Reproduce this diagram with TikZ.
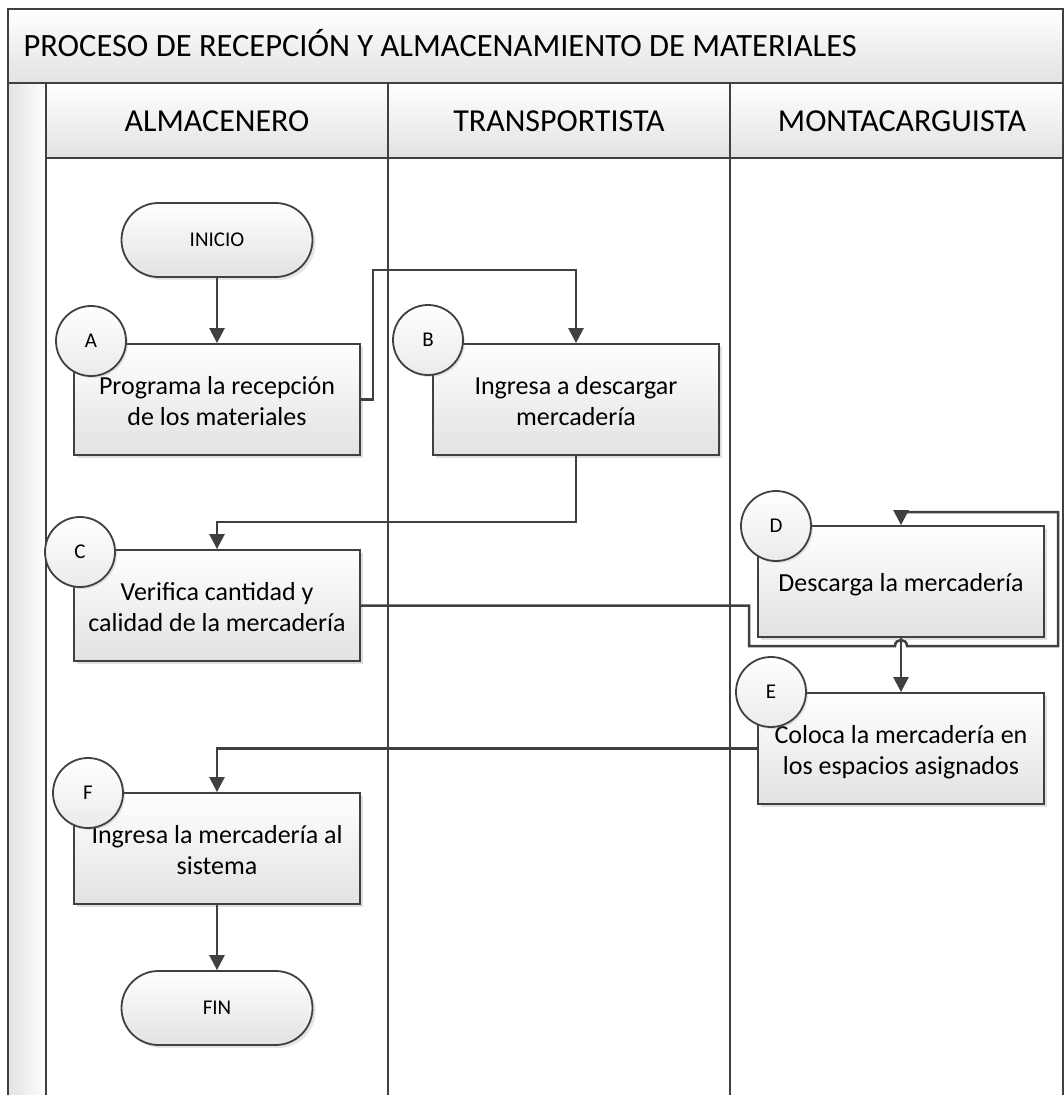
\documentclass[tikz,border=0pt]{standalone}
\usepackage{fontspec}
\setmainfont{Carlito}
\usetikzlibrary{arrows.meta,shadows}
\definecolor{ln}{HTML}{404040}
\definecolor{gb}{HTML}{E2E2E2}
\newcommand\boxtxt[1]{\raisebox{-4pt}[\height][\depth]{\begin{tabular}{@{}c@{}}#1\end{tabular}}}
\begin{document}
\begin{tikzpicture}[x=1pt,y=-1pt,
  frame/.style={draw=ln,line width=2pt},
  box/.style={draw=ln,line width=1.8pt,top color=white,bottom color=gb,minimum width=286pt,minimum height=111pt,inner sep=0pt,font=\fontsize{26}{31}\selectfont,drop shadow={shadow xshift=3pt,shadow yshift=-3pt,opacity=0.25,fill=gray}},
  tag/.style={circle,draw=ln,line width=1.8pt,top color=white,bottom color=gb!70,minimum size=70pt,inner sep=0pt,font=\fontsize{21}{24}\selectfont,drop shadow={shadow xshift=2pt,shadow yshift=-2pt,opacity=0.2,fill=gray}},
  term/.style={draw=ln,line width=1.8pt,rounded corners=37pt,minimum width=191pt,minimum height=74pt,top color=white,bottom color=gb,inner sep=0pt,font=\fontsize{21}{24}\selectfont,drop shadow={shadow xshift=3pt,shadow yshift=-3pt,opacity=0.2,fill=gray}},
  lanetext/.style={anchor=base,font=\fontsize{32}{38}\selectfont},
  conn/.style={draw=ln,line width=2.5pt},
  arr/.style={conn,-{Triangle[length=15pt,width=15pt]}},
]
\useasboundingbox (0,0) rectangle (1064,1095);
\fill[white] (0,0) rectangle (1064,1095);
\clip (0,0) rectangle (1064,1095);
% pool frame
\draw[frame,top color=white,bottom color=gb] (8,9) rectangle (1063,83);
\node[anchor=base west,font=\fontsize{32.5}{38}\selectfont] (title) at (20,56) {PROCESO DE RECEPCIÓN Y ALMACENAMIENTO DE MATERIALES};
\draw[frame,left color=gb,right color=white] (8,83) rectangle (46,1110);
\draw[frame,top color=white,bottom color=gb] (46,83) rectangle (388,158);
\draw[frame,top color=white,bottom color=gb] (388,83) rectangle (730,158);
\draw[frame,top color=white,bottom color=gb] (730,83) rectangle (1063,158);
\draw[frame] (46,158) rectangle (388,1110);
\draw[frame] (388,158) rectangle (730,1110);
\draw[frame] (730,158) rectangle (1063,1110);
\node[lanetext] (l1) at (217,131) {ALMACENERO};
\node[lanetext] (l2) at (559,131) {TRANSPORTISTA};
\node[lanetext] (l3) at (902,131) {MONTACARGUISTA};
% nodes
\node[term] (inicio) at (217,240) {INICIO};
\node[box] (A) at (217,399.5) {\boxtxt{Programa la recepción\\de los materiales}};
\node[box] (B) at (576,399.5) {\boxtxt{Ingresa a descargar\\mercadería}};
\node[box] (C) at (217,605.5) {\boxtxt{Verifica cantidad y\\calidad de la mercadería}};
\node[box] (D) at (901,581.5) {\boxtxt{Descarga la mercadería}};
\node[box] (E) at (901,748.5) {\boxtxt{Coloca la mercadería en\\los espacios asignados}};
\node[box] (F) at (217,848.5) {\boxtxt{Ingresa la mercadería al\\sistema}};
\node[term] (fin) at (217,1008) {FIN};
\node[tag] (cA) at (91,341) {A};
\node[tag] (cB) at (428,340) {B};
\node[tag] (cC) at (80,552) {C};
\node[tag] (cD) at (776,526) {D};
\node[tag] (cE) at (771,692) {E};
\node[tag] (cF) at (88,793) {F};
% connectors
\draw[arr] (inicio) -- (A);
\draw[arr] (A.east) -- (373,399.5) -- (373,270) -| (B.north);
\draw[arr] (B.south) -- (576,522) -| (C.north);
\draw[arr] (D.south) -- (E.north);
\draw[arr] (C.east) -- (749,605.5) -- (749,646) -- (895,646) .. controls (895,638) and (907,638) .. (907,646) -- (1058,646) -- (1058,512) -| (D.north);
\draw[arr] (E.west) -| (F.north);
\draw[arr] (F) -- (fin);
\end{tikzpicture}
\end{document}
